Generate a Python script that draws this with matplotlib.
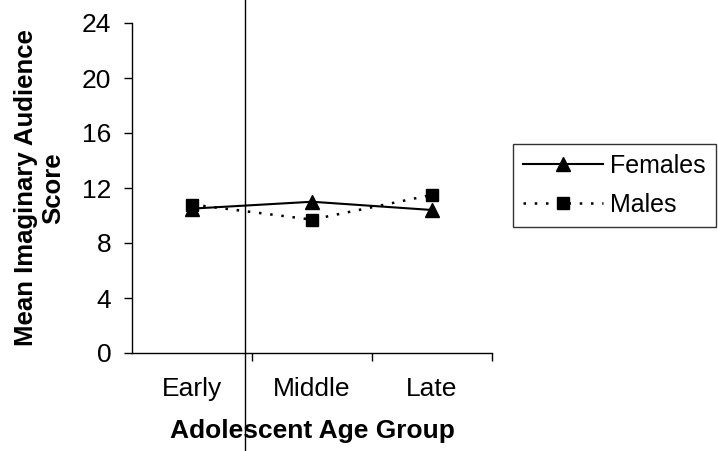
import numpy as np
import matplotlib
matplotlib.use('Agg')
import matplotlib.pyplot as plt
from matplotlib.lines import Line2D

plt.rcParams['font.family'] = ['Liberation Sans', 'DejaVu Sans']

# data
groups = ['Early', 'Middle', 'Late']
females = [10.5, 11.0, 10.4]
males = [10.8, 9.7, 11.5]
yticks = [0, 4, 8, 12, 16, 20, 24]

fig = plt.figure(figsize=(7.18, 4.51), dpi=100)
ax = fig.add_axes([132/718, 98/451, 360/718, 330/451])

x = np.arange(len(groups))
ax.plot(x, females, color='black', lw=1.5, marker='^', ms=10, label='Females')
ax.plot(x, males, color='black', lw=1.8, ls=(0, (1, 3.5)), marker='s', ms=9,
        label='Males')

ax.set_xlim(-0.5, 2.5)
ax.set_ylim(0, 24)
ax.set_yticks(yticks)
ax.tick_params(axis='y', direction='out', length=6, width=1, pad=9, labelsize=19)
# category labels in the middle, tick marks at the boundaries
ax.set_xticks(x)
ax.set_xticklabels(groups)
ax.tick_params(axis='x', which='major', length=0, pad=17, labelsize=19)
ax.set_xticks([0.5, 1.5, 2.5], minor=True)
ax.tick_params(axis='x', which='minor', direction='out', length=6, width=1)

for s in ['top', 'right']:
    ax.spines[s].set_visible(False)
for s in ['left', 'bottom']:
    ax.spines[s].set_linewidth(1)

ax.set_xlabel('Adolescent Age Group', fontsize=19, fontweight='bold', labelpad=13)
ax.set_ylabel('Mean Imaginary Audience\nScore', fontsize=18.5, fontweight='bold',
              linespacing=1.15)
ax.yaxis.set_label_coords(-0.186, 0.5)

leg = ax.legend(loc='center left', bbox_to_anchor=(513/718, 265.5/451),
                bbox_transform=fig.transFigure, frameon=True, fancybox=False,
                fontsize=18, handlelength=3.2, handletextpad=0.28,
                borderpad=0.4, labelspacing=0.6, borderaxespad=0)
leg.get_frame().set_edgecolor('black')
leg.get_frame().set_linewidth(1)

# scan artifact: vertical line through the whole page
fig.add_artist(Line2D([245/718, 245/718], [0, 1], color='black', lw=1,
                      transform=fig.transFigure))

fig.savefig('out.png', dpi=100)
